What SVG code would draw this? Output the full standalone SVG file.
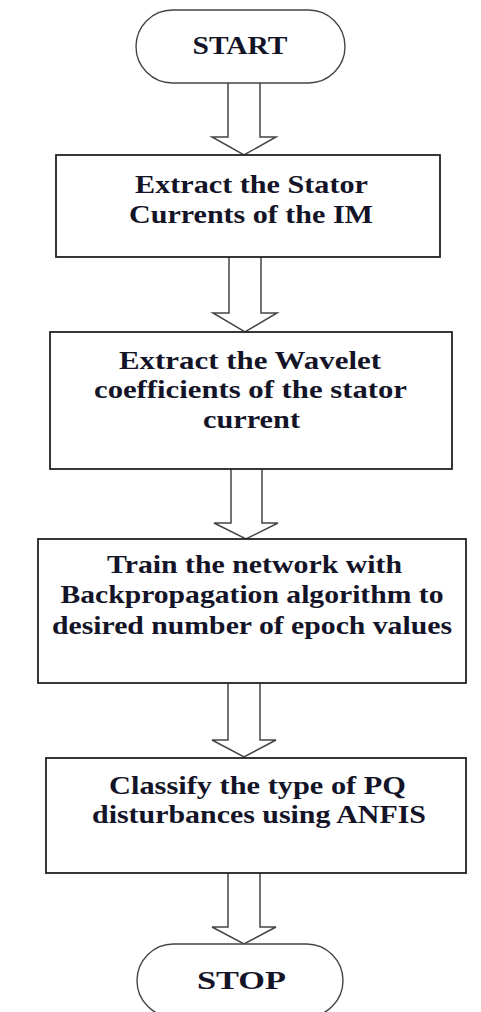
<svg xmlns="http://www.w3.org/2000/svg" width="481" height="1012" viewBox="0 0 481 1012">
<style>
.box{fill:#fff;stroke:#222;stroke-width:1.8}
.term{fill:#fff;stroke:#444;stroke-width:1.4}
.arr{fill:#fff;stroke:#444;stroke-width:1.5;stroke-linejoin:miter}
.t{font-family:"Liberation Serif","Times New Roman",serif;font-weight:bold;font-size:26px;fill:#141428;text-anchor:middle}
</style>
<rect width="481" height="1012" fill="#fff"/>
<g id="connectors">
<polyline class="arr" points="228,83 228,137 212,137 244,155 276,137 260,137 260,83"/>
<polyline class="arr" points="229,257 229,313 213,313 245,332 277,313 261,313 261,257"/>
<polyline class="arr" points="231,469 231,523 214,523 246,539 278,523 262,523 262,469"/>
<polyline class="arr" points="228,683 228,740 212,740 244,757 276,740 260,740 260,683"/>
<polyline class="arr" points="228,873 228,927 212,927 244,944 276,927 260,927 260,873"/>
</g>
<g id="start">
<rect class="term" x="136" y="10" width="209" height="73" rx="36.5"/>
<text class="t" x="240" y="54" textLength="95" lengthAdjust="spacingAndGlyphs">START</text>
</g>
<g id="box1">
<rect class="box" x="56" y="155" width="384" height="102"/>
<text class="t" x="251.5" y="193" textLength="233" lengthAdjust="spacingAndGlyphs">Extract the Stator</text>
<text class="t" x="251" y="223" textLength="244" lengthAdjust="spacingAndGlyphs">Currents of the IM</text>
</g>
<g id="box2">
<rect class="box" x="50" y="332" width="402" height="137"/>
<text class="t" x="250" y="369" textLength="262" lengthAdjust="spacingAndGlyphs">Extract the Wavelet</text>
<text class="t" x="250.5" y="398" textLength="313" lengthAdjust="spacingAndGlyphs">coefficients of the stator</text>
<text class="t" x="251.5" y="428" textLength="97" lengthAdjust="spacingAndGlyphs">current</text>
</g>
<g id="box3">
<rect class="box" x="38" y="539" width="428" height="144"/>
<text class="t" x="254.5" y="573" textLength="295" lengthAdjust="spacingAndGlyphs">Train the network with</text>
<text class="t" x="252" y="603" textLength="383" lengthAdjust="spacingAndGlyphs">Backpropagation algorithm to</text>
<text class="t" x="252" y="634" textLength="400" lengthAdjust="spacingAndGlyphs">desired number of epoch values</text>
</g>
<g id="box4">
<rect class="box" x="46" y="758" width="420" height="115"/>
<text class="t" x="257.5" y="794" textLength="297" lengthAdjust="spacingAndGlyphs">Classify the type of PQ</text>
<text class="t" x="259" y="823" textLength="334" lengthAdjust="spacingAndGlyphs">disturbances using ANFIS</text>
</g>
<g id="stop">
<rect class="term" x="137" y="944" width="206" height="73" rx="36.5"/>
<text class="t" x="241.5" y="989" textLength="89" lengthAdjust="spacingAndGlyphs">STOP</text>
</g>
</svg>
